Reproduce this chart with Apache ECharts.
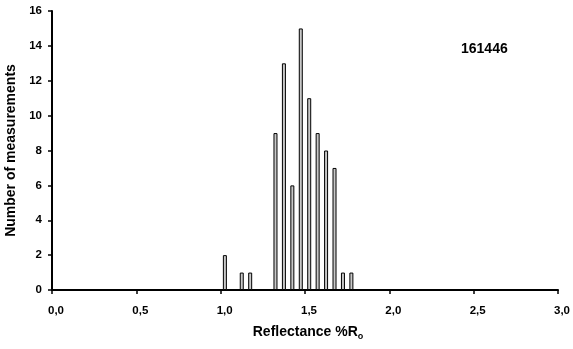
<!DOCTYPE html>
<html><head><meta charset="utf-8">
<script src="https://cdn.jsdelivr.net/npm/echarts@6/dist/echarts.min.js"></script>
<style>html,body{margin:0;padding:0;background:#fff}#c{width:573px;height:349px}</style>
</head><body><div id="c"></div>
<script>
const binCenters = [1.025, 1.125, 1.175, 1.325, 1.375, 1.425, 1.475, 1.525, 1.575, 1.625, 1.675, 1.725, 1.775];
const counts = [2, 1, 1, 9, 13, 6, 15, 11, 9, 8, 7, 1, 1];
const sampleLabel = '161446';
const xTitle = 'Reflectance %R';
const yTitle = 'Number of measurements';

const chart = echarts.init(document.getElementById('c'), null, {renderer: 'canvas'});
const font = '"Liberation Sans", Arial, sans-serif';
chart.setOption({
  animation: false,
  grid: {left: 52, right: 15, top: 11, bottom: 59, outerBoundsMode: 'none', containLabel: false},
  xAxis: {
    type: 'value', min: 0, max: 3, interval: 0.5,
    splitLine: {show: false},
    axisLine: {lineStyle: {color: '#000', width: 2}},
    axisTick: {lineStyle: {color: '#000', width: 1.5}, length: 4},
    axisLabel: {color: '#000', fontFamily: font, fontWeight: 'bold', fontSize: 11.5, margin: 15,
      padding: [0, 0, 0, 8], hideOverlap: false,
      formatter: v => v.toFixed(1).replace('.', ',')},
    name: '{a|' + xTitle + '}{b|o}', nameLocation: 'middle', nameGap: 33,
    nameTextStyle: {padding: [0, 0, 0, 6], rich: {
      a: {fontFamily: font, fontWeight: 'bold', fontSize: 14, color: '#000'},
      b: {fontFamily: font, fontWeight: 'bold', fontSize: 9, color: '#000', verticalAlign: 'bottom', padding: [9, 0, 0, 0]}
    }}
  },
  yAxis: {
    type: 'value', min: 0, max: 16, interval: 2,
    splitLine: {show: false},
    axisLine: {show: true, lineStyle: {color: '#000', width: 2}},
    axisTick: {show: true, lineStyle: {color: '#000', width: 1.5}, length: 4},
    axisLabel: {color: '#000', fontFamily: font, fontWeight: 'bold', fontSize: 11.5, margin: 10},
    name: yTitle, nameLocation: 'middle', nameGap: 31,
    nameTextStyle: {fontFamily: font, fontWeight: 'bold', fontSize: 14, color: '#000'}
  },
  series: [{
    type: 'bar', barWidth: 4,
    data: binCenters.map((x, i) => [x, counts[i]]),
    itemStyle: {color: '#c8c8c8', borderColor: '#000', borderWidth: 1}
  }],
  graphic: [{
    type: 'text', left: 461, top: 42,
    style: {text: sampleLabel, fontFamily: font, fontWeight: 'bold', fontSize: 14, fill: '#000'}
  }]
});
</script></body></html>
